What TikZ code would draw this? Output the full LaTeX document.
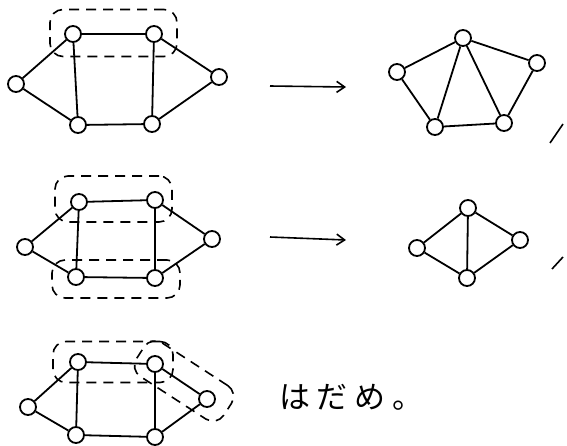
\documentclass[tikz,border=0pt]{standalone}
\usepackage{fontspec}
\newfontfamily\jpfont[LetterSpace=22]{Noto Sans CJK JP}
\usetikzlibrary{arrows.meta,fit}
\begin{document}
\begin{tikzpicture}[x=1pt,y=-1pt,
  vtx/.style={circle,draw,line width=1.8pt,minimum size=16pt,inner sep=0pt,fill=white},
  edge/.style={line width=1.8pt},
  grp/.style={draw,line width=1.6pt,dash pattern=on 10pt off 7pt,rounded corners=13pt,inner sep=0pt},
  arr/.style={line width=1.6pt,-{Straight Barb[length=8pt,width=11pt,line width=1.6pt]}},
  tick/.style={line width=1.6pt}]
\useasboundingbox (0,0) rectangle (567,445);
% ---- row 1 left
\node[vtx] (a1) at (16,84) {};
\node[vtx] (b1) at (73,34) {};
\node[vtx] (c1) at (154,34) {};
\node[vtx] (d1) at (219,77) {};
\node[vtx] (e1) at (152,124) {};
\node[vtx] (f1) at (78,125) {};
\draw[edge] (a1)--(b1) (b1)--(c1) (c1)--(d1) (d1)--(e1) (e1)--(f1) (f1)--(a1) (b1)--(f1) (c1)--(e1);
\node[grp,minimum width=127pt,minimum height=47pt] (g1) at (113.5,33) {};
% arrow 1
\coordinate (s1) at (270,86);
\coordinate (t1) at (346,87);
\draw[arr] (s1)--(t1);
% row 1 right
\node[vtx] (p1) at (463,38) {};
\node[vtx] (q1) at (397,72) {};
\node[vtx] (r1) at (537,63) {};
\node[vtx] (u1) at (435,127) {};
\node[vtx] (w1) at (504,123) {};
\draw[edge] (p1)--(q1) (p1)--(r1) (p1)--(u1) (p1)--(w1) (q1)--(u1) (r1)--(w1) (u1)--(w1);
\coordinate (m1a) at (550,143);
\coordinate (m1b) at (563,124);
\draw[tick] (m1a)--(m1b);
% ---- row 2 left
\node[vtx] (a2) at (25,247) {};
\node[vtx] (b2) at (79,202) {};
\node[vtx] (c2) at (155,200) {};
\node[vtx] (d2) at (212,239) {};
\node[vtx] (e2) at (155,278) {};
\node[vtx] (f2) at (76,277) {};
\draw[edge] (a2)--(b2) (b2)--(c2) (c2)--(d2) (d2)--(e2) (e2)--(f2) (f2)--(a2) (b2)--(f2) (c2)--(e2);
\node[grp,minimum width=117pt,minimum height=46pt] (g2) at (113.5,199) {};
\node[grp,minimum width=128pt,minimum height=38pt] (g3) at (116,279) {};
% arrow 2
\coordinate (s2) at (270,237);
\coordinate (t2) at (346,240);
\draw[arr] (s2)--(t2);
% row 2 right
\node[vtx] (p2) at (468,208) {};
\node[vtx] (q2) at (417,248) {};
\node[vtx] (r2) at (520,240) {};
\node[vtx] (u2) at (467,278) {};
\draw[edge] (p2)--(q2) (p2)--(r2) (p2)--(u2) (q2)--(u2) (r2)--(u2);
\coordinate (m2a) at (552,269);
\coordinate (m2b) at (563,257);
\draw[tick] (m2a)--(m2b);
% ---- row 3
\node[vtx] (a3) at (28,407) {};
\node[vtx] (b3) at (78,362) {};
\node[vtx] (c3) at (155,364) {};
\node[vtx] (d3) at (207,399) {};
\node[vtx] (e3) at (155,437) {};
\node[vtx] (f3) at (76,435) {};
\draw[edge] (a3)--(b3) (b3)--(c3) (c3)--(d3) (d3)--(e3) (e3)--(f3) (f3)--(a3) (b3)--(f3) (c3)--(e3);
\node[grp,minimum width=120pt,minimum height=41pt] (g4) at (113,362) {};
\node[grp,minimum width=104pt,minimum height=40pt,rotate=-33] (g5) at (184,381) {};
\node[font=\jpfont\fontsize{31}{34}\selectfont,anchor=west] (txt) at (276,397) {はだめ。};
\end{tikzpicture}
\end{document}
